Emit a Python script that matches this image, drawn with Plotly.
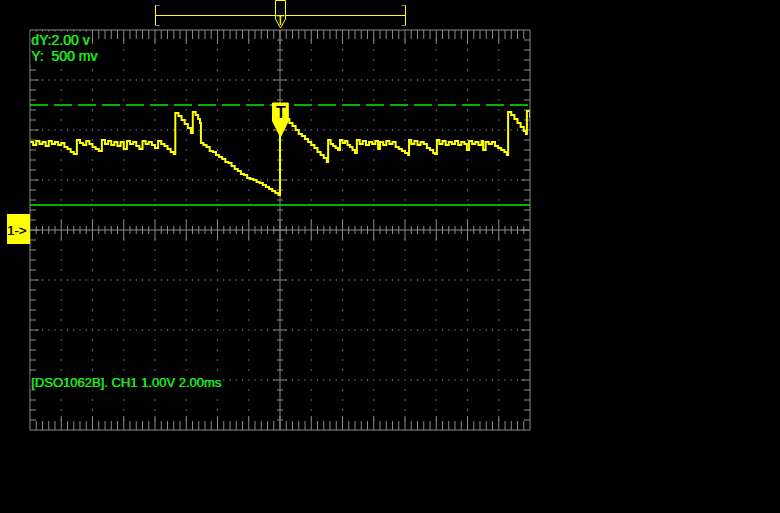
import plotly.graph_objects as go

# ---------------- scope settings ----------------
time_per_div_ms = 2.0
volts_per_div = 1.0
n_hdiv = 8
n_vdiv = 8
cursor_a_v = 2.5
cursor_b_v = 0.5
trigger_time_ms = 0.0
trigger_level_v = 1.86
channel_offset_v = 0.0

label_dy = "dY:2.00 v"
label_y = "Y:  500 mv"
label_info = "[DSO1062B]. CH1 1.00V 2.00ms"
label_channel = "1->"
label_trigger = "T"

# ---------------- CH1 trace ----------------
time_ms = [
    -8.0, -7.9, -7.8, -7.7, -7.6, -7.5, -7.4, -7.3, -7.2, -7.1, -7.0, -6.9, -6.8, -6.7, -6.6,
    -6.5, -6.4, -6.3, -6.2, -6.1, -6.0, -5.9, -5.8, -5.7, -5.6, -5.5, -5.4, -5.3, -5.2, -5.1,
    -5.0, -4.9, -4.8, -4.7, -4.6, -4.5, -4.4, -4.3, -4.2, -4.1, -4.0, -3.9, -3.8, -3.7, -3.6,
    -3.5, -3.4,
    -3.35, -3.25, -3.15, -3.05, -2.95, -2.85,
    -2.79, -2.70, -2.62, -2.56,
    -2.53, -2.45, -2.35, -2.25, -2.15, -2.05, -1.95, -1.85, -1.75, -1.65, -1.55, -1.45, -1.35,
    -1.25, -1.15, -1.05, -0.95, -0.85, -0.75, -0.65, -0.55, -0.45, -0.35, -0.25, -0.15, -0.05,
    0.00, 0.10, 0.20, 0.30, 0.40, 0.50, 0.60, 0.70, 0.80, 0.90, 1.00, 1.10, 1.20, 1.30, 1.40, 1.50,
    1.54, 1.62, 1.70, 1.78, 1.86, 1.92, 2.00, 2.08, 2.16, 2.24, 2.32, 2.40, 2.46, 2.55, 2.65,
    2.75, 2.85, 2.95, 3.05, 3.14, 3.20, 3.30, 3.40, 3.50, 3.60, 3.70, 3.80, 3.90, 4.00, 4.10,
    4.13, 4.20, 4.30, 4.40, 4.50, 4.60, 4.70, 4.80, 4.90, 4.96, 5.02, 5.10, 5.20, 5.30, 5.40,
    5.50, 5.60, 5.70, 5.80, 5.90, 5.98, 6.05, 6.15, 6.25, 6.35, 6.45, 6.50, 6.58, 6.68, 6.78,
    6.88, 6.98, 7.08, 7.18, 7.26,
    7.30, 7.40, 7.50, 7.60, 7.70, 7.80, 7.87,
    7.90, 8.00,
]
volts = [
    1.76, 1.70, 1.78, 1.72, 1.76, 1.68, 1.78, 1.72, 1.76, 1.70, 1.74, 1.66, 1.62, 1.56, 1.52,
    1.80, 1.74, 1.70, 1.78, 1.72, 1.66, 1.62, 1.58, 1.80, 1.72, 1.78, 1.70, 1.76, 1.68, 1.76,
    1.62, 1.78, 1.72, 1.76, 1.68, 1.62, 1.78, 1.72, 1.76, 1.70, 1.64, 1.78, 1.72, 1.68, 1.62,
    1.56, 1.52,
    2.34, 2.28, 2.20, 2.12, 2.04, 1.94,
    2.36, 2.30, 2.22, 2.14,
    1.74, 1.70, 1.66, 1.58, 1.56, 1.50, 1.46, 1.42, 1.36, 1.34, 1.28, 1.22, 1.18,
    1.12, 1.10, 1.04, 1.02, 1.00, 0.96, 0.94, 0.90, 0.86, 0.82, 0.78, 0.74, 0.70,
    2.38, 2.30, 2.22, 2.14, 2.08, 2.00, 1.92, 1.88, 1.82, 1.76, 1.70, 1.64, 1.56, 1.50, 1.44, 1.36,
    1.80, 1.72, 1.68, 1.64, 1.60, 1.80, 1.74, 1.78, 1.70, 1.66, 1.60, 1.54, 1.80, 1.72, 1.78,
    1.70, 1.76, 1.72, 1.78, 1.62, 1.76, 1.70, 1.78, 1.72, 1.76, 1.66, 1.62, 1.58, 1.54, 1.50,
    1.80, 1.72, 1.78, 1.70, 1.76, 1.72, 1.64, 1.60, 1.54, 1.52, 1.80, 1.72, 1.78, 1.70, 1.76,
    1.72, 1.78, 1.70, 1.76, 1.72, 1.60, 1.78, 1.72, 1.76, 1.70, 1.78, 1.60, 1.76, 1.72, 1.76,
    1.68, 1.64, 1.60, 1.56, 1.50,
    2.36, 2.30, 2.22, 2.14, 2.06, 1.98, 1.92,
    2.38, 2.24,
]

# ---------------- styling ----------------
BG = "black"
GRID = "#8a8a8a"
GREEN = "#1ee61e"
LINE_GREEN = "#00f000"
YELLOW = "#ffff00"
FONT = "Liberation Sans, Arial, sans-serif"

W, H = 780, 513
ML, MR, MT, MB = 30, 250, 30, 83
plot_w = W - ML - MR
plot_h = H - MT - MB

t_half = n_hdiv * time_per_div_ms / 2
v_half = n_vdiv * volts_per_div / 2
px_per_ms = plot_w / (2 * t_half)
px_per_v = plot_h / (2 * v_half)


def ms(px):
    return px / px_per_ms


def vv(px):
    return px / px_per_v


minor_t = time_per_div_ms / 10      # 0.2 ms
major_t = time_per_div_ms / 2       # 1 ms
minor_v = volts_per_div / 5         # 0.2 V

n_t = int(round(2 * t_half / minor_t))
n_v = int(round(2 * v_half / minor_v))
t_steps = [-t_half + i * minor_t for i in range(1, n_t)]
v_steps = [-v_half + j * minor_v for j in range(1, n_v)]


def is_major_t(t):
    return abs(t / major_t - round(t / major_t)) < 1e-6


def is_div_v(v):
    return abs(v / volts_per_div - round(v / volts_per_div)) < 1e-6


# dotted grid
dot_x, dot_y = [], []
for k in range(1, n_vdiv):
    v = -v_half + k * volts_per_div
    if abs(v) < 1e-6:
        continue
    for t in t_steps:
        if abs(t) < 1e-6:
            continue
        dot_x.append(t)
        dot_y.append(v)
for t in t_steps:
    if not is_major_t(t) or abs(t) < 1e-6:
        continue
    for v in v_steps:
        if is_div_v(v) or abs(v) < 1e-6:
            continue
        dot_x.append(t)
        dot_y.append(v)

# tick lines
lx, ly = [], []


def seg(x0, y0, x1, y1):
    lx.extend([x0, x1, None])
    ly.extend([y0, y1, None])


# center cross
seg(-t_half, 0, t_half, 0)
seg(0, -v_half, 0, v_half)
for t in t_steps:
    h = vv(10) if is_major_t(t) else vv(4)
    seg(t, -h, t, h)
    L = vv(14) if is_major_t(t) else vv(9)
    seg(t, v_half, t, v_half - L)
    seg(t, -v_half, t, -v_half + L)
for v in v_steps:
    w = ms(7) if is_div_v(v) else ms(3)
    seg(-w, v, w, v)
    e = ms(9) if is_div_v(v) else ms(6)
    seg(-t_half, v, -t_half + e, v)
    seg(t_half, v, t_half - e, v)

fig = go.Figure()
fig.add_trace(go.Scatter(x=dot_x, y=dot_y, mode="markers",
                         marker=dict(symbol="square", size=1.2, color="#9a9a9a", line=dict(width=0)),
                         hoverinfo="skip"))
fig.add_trace(go.Scatter(x=lx, y=ly, mode="lines", line=dict(color=GRID, width=1),
                         hoverinfo="skip"))
# cursors
fig.add_trace(go.Scatter(x=[-t_half, t_half], y=[cursor_a_v, cursor_a_v], mode="lines",
                         line=dict(color=LINE_GREEN, width=1.3, dash="18px,6px"), hoverinfo="skip"))
fig.add_trace(go.Scatter(x=[-t_half, t_half], y=[cursor_b_v, cursor_b_v], mode="lines",
                         line=dict(color=LINE_GREEN, width=1.3), hoverinfo="skip"))
# CH1 trace
fig.add_trace(go.Scatter(x=time_ms, y=volts, mode="lines", line=dict(color=YELLOW, width=2, shape="hv"),
                         hoverinfo="skip"))

shapes = []
shapes.append(dict(type="rect", xref="paper", yref="paper", x0=0, x1=1, y0=0, y1=1,
                   line=dict(color=GRID, width=1), layer="above"))
shapes.append(dict(type="path", xref="x", yref="y", xsizemode="pixel", ysizemode="pixel",
                   xanchor=trigger_time_ms, yanchor=trigger_level_v,
                   path="M 0.5,0 L -7.5,16 L -7.5,34 L 8.3,34 L 8.3,16 Z",
                   fillcolor=YELLOW, line=dict(color=YELLOW, width=1), layer="above"))
shapes.append(dict(type="rect", xref="paper", yref="y", x0=-23 / plot_w, x1=0,
                   y0=channel_offset_v - vv(14), y1=channel_offset_v + vv(16),
                   fillcolor=YELLOW, line=dict(width=0), layer="above"))


def px2paper_x(px):
    return (px - ML) / plot_w


def py2paper_y(py):
    return 1 + (MT - py) / plot_h


yb = py2paper_y(15.5)
shapes.append(dict(type="line", xref="paper", yref="paper", x0=px2paper_x(155.5), x1=px2paper_x(405.5),
                   y0=yb, y1=yb, line=dict(color=YELLOW, width=1)))
for xe, dirn in [(155.5, 1), (405.5, -1)]:
    shapes.append(dict(type="line", xref="paper", yref="paper", x0=px2paper_x(xe), x1=px2paper_x(xe),
                       y0=py2paper_y(5), y1=py2paper_y(25.5), line=dict(color=YELLOW, width=1)))
    for py in (5.5, 25.5):
        shapes.append(dict(type="line", xref="paper", yref="paper", x0=px2paper_x(xe),
                           x1=px2paper_x(xe + dirn * 4),
                           y0=py2paper_y(py), y1=py2paper_y(py), line=dict(color=GRID, width=1)))
xa, xb, xc = px2paper_x(275.5), px2paper_x(285.5), px2paper_x(280.5)
shapes.append(dict(type="path", xref="paper", yref="paper",
                   path=f"M {xa},{py2paper_y(0.5)} L {xb},{py2paper_y(0.5)} L {xb},{py2paper_y(19)} "
                        f"L {xc},{py2paper_y(28)} L {xa},{py2paper_y(19)} Z",
                   fillcolor="black", line=dict(color=YELLOW, width=1)))

txt_font = dict(family=FONT, size=14, color=GREEN, shadow=f"0.6px 0px 0px {GREEN}")
annotations = [
    dict(text=label_dy, xref="paper", yref="paper", x=0, y=py2paper_y(31), xanchor="left", yanchor="top",
         showarrow=False, font=txt_font, bgcolor=BG, borderpad=0),
    dict(text=label_y, xref="paper", yref="paper", x=0, y=py2paper_y(47), xanchor="left", yanchor="top",
         showarrow=False, font=txt_font, bgcolor=BG, borderpad=0),
    dict(text=label_info, xref="paper", yref="paper", x=0, y=py2paper_y(374), xanchor="left", yanchor="top",
         showarrow=False, font=dict(txt_font, size=13), bgcolor=BG, borderpad=0),
    dict(text=label_channel, xref="paper", yref="y", x=-25 / plot_w, y=channel_offset_v, xanchor="left",
         yanchor="middle", showarrow=False,
         font=dict(family=FONT, size=13, color="#101000", shadow="0.6px 0px 0px #101000")),
    dict(text=f"<b>{label_trigger}</b>", x=trigger_time_ms, y=trigger_level_v, yshift=25, xshift=0.5,
         showarrow=False, font=dict(family=FONT, size=16, color="black")),
    dict(text=label_trigger, xref="paper", yref="paper", x=xc, y=py2paper_y(10.5),
         showarrow=False, font=dict(family=FONT, size=14, color=YELLOW)),
]

fig.update_layout(
    width=W, height=H,
    margin=dict(l=ML, r=MR, t=MT, b=MB, pad=0),
    paper_bgcolor=BG, plot_bgcolor=BG,
    showlegend=False,
    xaxis=dict(range=[-t_half, t_half], visible=False, fixedrange=True),
    yaxis=dict(range=[-v_half, v_half], visible=False, fixedrange=True),
    shapes=shapes,
    annotations=annotations,
)

fig.write_html("out.html")
